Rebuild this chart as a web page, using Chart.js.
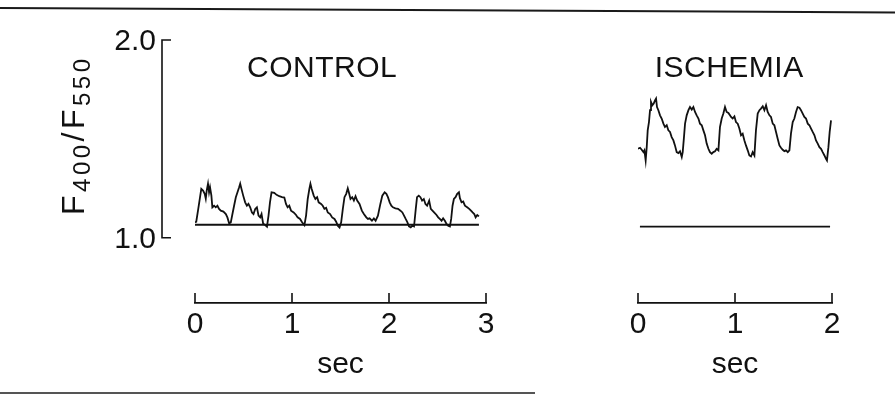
<!DOCTYPE html>
<html>
<head>
<meta charset="utf-8">
<script src="https://cdn.jsdelivr.net/npm/chart.js@4.4.1/dist/chart.umd.min.js"></script>
<style>
    body { margin: 0; background: #fff; }
    .figure { position: relative; width: 895px; height: 397px; overflow: hidden; background: #fff; }
    .figure canvas { position: absolute; top: 0; }
    #control { left: 0; }
    #ischemia { left: 560px; }
    /* the printed rules above and below the figure */
    .rule-top { position: absolute; left: 0; top: 7px; width: 895px; height: 2px; background: #1a1a1a; transform-origin: 0 0; transform: rotate(0.29deg); }
    .rule-bottom { position: absolute; left: 0; top: 392px; width: 535px; height: 2px; background: #555; }
</style>
</head>
<body>
<div class="figure">
    <div class="rule-top"></div>
    <canvas id="control" width="560" height="397"></canvas>
    <canvas id="ischemia" width="335" height="397"></canvas>
    <div class="rule-bottom"></div>
</div>

<script>
    // F400/F550 ratio traces (time in sec)
    const controlTime = [
        -0.010, 0.013, 0.034, 0.052, 0.065, 0.083, 0.100, 0.111, 0.121, 0.134,
        0.145, 0.155, 0.169, 0.179, 0.197, 0.214, 0.231, 0.248, 0.266, 0.293,
        0.318, 0.334, 0.352, 0.369, 0.386, 0.403, 0.421, 0.438, 0.455, 0.466,
        0.479, 0.497, 0.517, 0.535, 0.551, 0.569, 0.587, 0.603, 0.621, 0.638,
        0.655, 0.672, 0.686, 0.703, 0.724, 0.742, 0.758, 0.773, 0.789, 0.817,
        0.841, 0.869, 0.897, 0.921, 0.938, 0.955, 0.972, 0.990, 1.017, 1.042,
        1.058, 1.083, 1.104, 1.128, 1.145, 1.162, 1.179, 1.190, 1.203, 1.224,
        1.241, 1.259, 1.275, 1.300, 1.317, 1.334, 1.352, 1.369, 1.393, 1.414,
        1.438, 1.455, 1.472, 1.490, 1.507, 1.524, 1.541, 1.559, 1.575, 1.586,
        1.603, 1.621, 1.638, 1.655, 1.672, 1.696, 1.720, 1.741, 1.766, 1.783,
        1.800, 1.824, 1.844, 1.862, 1.886, 1.911, 1.931, 1.955, 1.973, 1.989,
        2.007, 2.024, 2.041, 2.066, 2.093, 2.118, 2.138, 2.155, 2.172, 2.190,
        2.206, 2.224, 2.241, 2.258, 2.276, 2.289, 2.307, 2.324, 2.341, 2.359,
        2.376, 2.393, 2.414, 2.431, 2.448, 2.465, 2.490, 2.507, 2.524, 2.542,
        2.558, 2.576, 2.593, 2.610, 2.628, 2.641, 2.655, 2.669, 2.686, 2.703,
        2.721, 2.731, 2.748, 2.765, 2.783, 2.806, 2.827, 2.845, 2.862, 2.879,
        2.893, 2.910, 2.927
    ];
    const controlRatio = [
        1.078, 1.081, 1.147, 1.205, 1.247, 1.239, 1.222, 1.198, 1.239, 1.273,
        1.230, 1.255, 1.213, 1.154, 1.162, 1.154, 1.162, 1.146, 1.137, 1.132,
        1.120, 1.103, 1.073, 1.078, 1.120, 1.162, 1.205, 1.230, 1.255, 1.273,
        1.247, 1.213, 1.179, 1.162, 1.171, 1.154, 1.128, 1.120, 1.146, 1.154,
        1.112, 1.103, 1.120, 1.070, 1.064, 1.056, 1.112, 1.179, 1.230, 1.227,
        1.217, 1.210, 1.205, 1.203, 1.171, 1.154, 1.162, 1.137, 1.128, 1.115,
        1.103, 1.095, 1.078, 1.064, 1.112, 1.196, 1.247, 1.273, 1.247, 1.213,
        1.196, 1.205, 1.179, 1.171, 1.162, 1.146, 1.151, 1.128, 1.120, 1.103,
        1.095, 1.081, 1.061, 1.052, 1.078, 1.146, 1.205, 1.222, 1.250, 1.230,
        1.196, 1.205, 1.188, 1.210, 1.188, 1.171, 1.137, 1.120, 1.103, 1.095,
        1.098, 1.086, 1.098, 1.086, 1.112, 1.171, 1.213, 1.230, 1.222, 1.205,
        1.179, 1.162, 1.154, 1.149, 1.146, 1.137, 1.128, 1.112, 1.095, 1.078,
        1.057, 1.052, 1.061, 1.057, 1.146, 1.205, 1.213, 1.205, 1.188, 1.196,
        1.171, 1.162, 1.188, 1.146, 1.137, 1.128, 1.115, 1.103, 1.095, 1.086,
        1.098, 1.086, 1.070, 1.061, 1.057, 1.095, 1.162, 1.196, 1.205, 1.222,
        1.230, 1.200, 1.179, 1.183, 1.162, 1.154, 1.146, 1.137, 1.128, 1.120,
        1.103, 1.115, 1.108
    ];
    const controlBaseTime = [-0.010, 2.927];
    const controlBaseRatio = [1.066, 1.066];

    const ischemiaTime = [
        -0.003, 0.021, 0.038, 0.056, 0.066, 0.079, 0.090, 0.100, 0.113, 0.124,
        0.134, 0.148, 0.162, 0.175, 0.186, 0.196, 0.210, 0.227, 0.244, 0.262,
        0.278, 0.296, 0.313, 0.330, 0.347, 0.365, 0.381, 0.399, 0.416, 0.433,
        0.451, 0.461, 0.474, 0.485, 0.502, 0.520, 0.536, 0.554, 0.571, 0.588,
        0.605, 0.623, 0.639, 0.657, 0.674, 0.691, 0.708, 0.726, 0.742, 0.760,
        0.777, 0.794, 0.811, 0.829, 0.845, 0.863, 0.880, 0.897, 0.914, 0.932,
        0.948, 0.959, 0.976, 0.994, 1.010, 1.028, 1.045, 1.062, 1.079, 1.097,
        1.113, 1.131, 1.148, 1.165, 1.182, 1.200, 1.216, 1.234, 1.252, 1.268,
        1.286, 1.303, 1.320, 1.337, 1.355, 1.371, 1.389, 1.406, 1.423, 1.440,
        1.458, 1.474, 1.492, 1.509, 1.526, 1.544, 1.561, 1.577, 1.595, 1.612,
        1.629, 1.646, 1.664, 1.680, 1.698, 1.715, 1.732, 1.750, 1.767, 1.784,
        1.801, 1.819, 1.835, 1.853, 1.870, 1.887, 1.904, 1.922, 1.938, 1.948,
        1.963, 1.976, 1.990
    ];
    const ischemiaRatio = [
        1.450, 1.455, 1.445, 1.433, 1.442, 1.391, 1.458, 1.543, 1.585, 1.645,
        1.687, 1.670, 1.679, 1.695, 1.704, 1.661, 1.645, 1.619, 1.603, 1.577,
        1.560, 1.569, 1.543, 1.535, 1.509, 1.492, 1.467, 1.433, 1.428, 1.437,
        1.408, 1.433, 1.509, 1.577, 1.619, 1.645, 1.661, 1.648, 1.661, 1.636,
        1.619, 1.603, 1.577, 1.569, 1.543, 1.518, 1.476, 1.450, 1.433, 1.425,
        1.433, 1.437, 1.450, 1.442, 1.560, 1.603, 1.628, 1.661, 1.636, 1.631,
        1.619, 1.611, 1.603, 1.614, 1.585, 1.577, 1.552, 1.518, 1.526, 1.492,
        1.467, 1.442, 1.416, 1.411, 1.433, 1.416, 1.543, 1.628, 1.645, 1.653,
        1.665, 1.645, 1.670, 1.636, 1.619, 1.611, 1.577, 1.569, 1.535, 1.501,
        1.467, 1.455, 1.445, 1.438, 1.442, 1.433, 1.442, 1.526, 1.585, 1.603,
        1.636, 1.661, 1.658, 1.645, 1.628, 1.611, 1.603, 1.577, 1.569, 1.552,
        1.535, 1.518, 1.492, 1.476, 1.458, 1.450, 1.433, 1.416, 1.399, 1.391,
        1.458, 1.535, 1.594
    ];
    const ischemiaBaseTime = [0.020, 1.980];
    const ischemiaBaseRatio = [1.056, 1.056];

    // axis ticks
    const controlTicks = [0, 1, 2, 3];
    const ischemiaTicks = [0, 1, 2];
    const ratioTicks = [1.0, 2.0];
    const ratioTickLabels = ['1.0', '2.0'];

    const INK = '#111';
    const FONT = "'Liberation Sans', Arial, sans-serif";
    Chart.defaults.font.family = FONT;
    Chart.defaults.color = INK;

    const toPoints = (xs, ys) => xs.map((x, i) => ({ x: x, y: ys[i] }));

    // tick marks pointing up, panel title, and the ratio bracket
    const traceAxes = {
        id: 'traceAxes',
        afterDraw(chart, args, opts) {
            const c = chart.ctx;
            const x = chart.scales.x;
            const y = chart.scales.y;
            const area = chart.chartArea;
            c.save();
            c.strokeStyle = INK;
            c.fillStyle = INK;
            c.lineWidth = 1.6;
            x.ticks.forEach(t => {
                const px = x.getPixelForValue(t.value);
                c.beginPath();
                c.moveTo(px, area.bottom);
                c.lineTo(px, area.bottom - 10);
                c.stroke();
            });

            c.font = opts.titleSize + 'px ' + FONT;
            c.letterSpacing = opts.titleSpacing + 'px';
            c.textAlign = 'center';
            c.textBaseline = 'alphabetic';
            c.fillText(opts.title, x.getPixelForValue(opts.titleAt), y.getPixelForValue(opts.titleLevel));
            c.letterSpacing = '0px';

            if (opts.bracket) {
                const bx = area.left - 33;
                const yTop = y.getPixelForValue(ratioTicks[1]);
                const yBot = y.getPixelForValue(ratioTicks[0]);
                c.beginPath();
                c.moveTo(bx + 9, yTop);
                c.lineTo(bx, yTop);
                c.lineTo(bx, yBot);
                c.lineTo(bx + 9, yBot);
                c.stroke();

                c.font = '30px ' + FONT;
                c.textAlign = 'right';
                c.textBaseline = 'middle';
                ratioTicks.forEach((v, i) => {
                    c.fillText(ratioTickLabels[i], bx - 6, y.getPixelForValue(v) + 2);
                });

                // rotated F400/F550 with subscripts
                c.translate(84, 215);
                c.rotate(-Math.PI / 2);
                c.textAlign = 'left';
                c.textBaseline = 'alphabetic';
                c.letterSpacing = '3.5px';
                let pos = 0;
                [['F', 32, 0], ['400', 24, 6], ['/F', 32, 0], ['550', 24, 6]].forEach(p => {
                    c.font = p[1] + 'px ' + FONT;
                    c.fillText(p[0], pos, p[2]);
                    pos += c.measureText(p[0]).width;
                });
            }
            c.restore();
        }
    };

    function makeTrace(canvasId, times, ratios, baseTimes, baseRatios, ticks, pad, panel) {
        const ctx = document.getElementById(canvasId).getContext('2d');
        return new Chart(ctx, {
            type: 'line',
            data: {
                datasets: [{
                    data: toPoints(times, ratios),
                    borderColor: INK,
                    borderWidth: 1.8
                }, {
                    data: toPoints(baseTimes, baseRatios),
                    borderColor: INK,
                    borderWidth: 1.9
                }]
            },
            options: {
                responsive: false,
                animation: false,
                layout: { padding: pad },
                elements: { point: { radius: 0 }, line: { tension: 0 } },
                plugins: {
                    legend: { display: false },
                    tooltip: { enabled: false },
                    traceAxes: panel
                },
                scales: {
                    x: {
                        type: 'linear',
                        min: ticks[0],
                        max: ticks[ticks.length - 1],
                        afterBuildTicks: s => { s.ticks = ticks.map(v => ({ value: v })); },
                        grid: { display: false, drawTicks: false },
                        border: { display: true, color: INK, width: 1.8 },
                        ticks: { padding: 4, font: { size: 30 }, color: INK },
                        title: { display: true, text: 'sec', font: { size: 30 }, color: INK, padding: { top: 0, bottom: 0 } }
                    },
                    y: { type: 'linear', min: 0.67, max: 2.0, display: false }
                }
            },
            plugins: [traceAxes]
        });
    }

    makeTrace('control', controlTime, controlRatio, controlBaseTime, controlBaseRatio, controlTicks,
        { left: 195, right: 74, top: 40, bottom: 14 },
        { title: 'CONTROL', titleAt: 1.31, titleLevel: 1.815, titleSize: 30, titleSpacing: 0.5, bracket: true });

    makeTrace('ischemia', ischemiaTime, ischemiaRatio, ischemiaBaseTime, ischemiaBaseRatio, ischemiaTicks,
        { left: 78, right: 63, top: 40, bottom: 14 },
        { title: 'ISCHEMIA', titleAt: 0.94, titleLevel: 1.815, titleSize: 30, titleSpacing: 0.5, bracket: false });
</script>
</body>
</html>
